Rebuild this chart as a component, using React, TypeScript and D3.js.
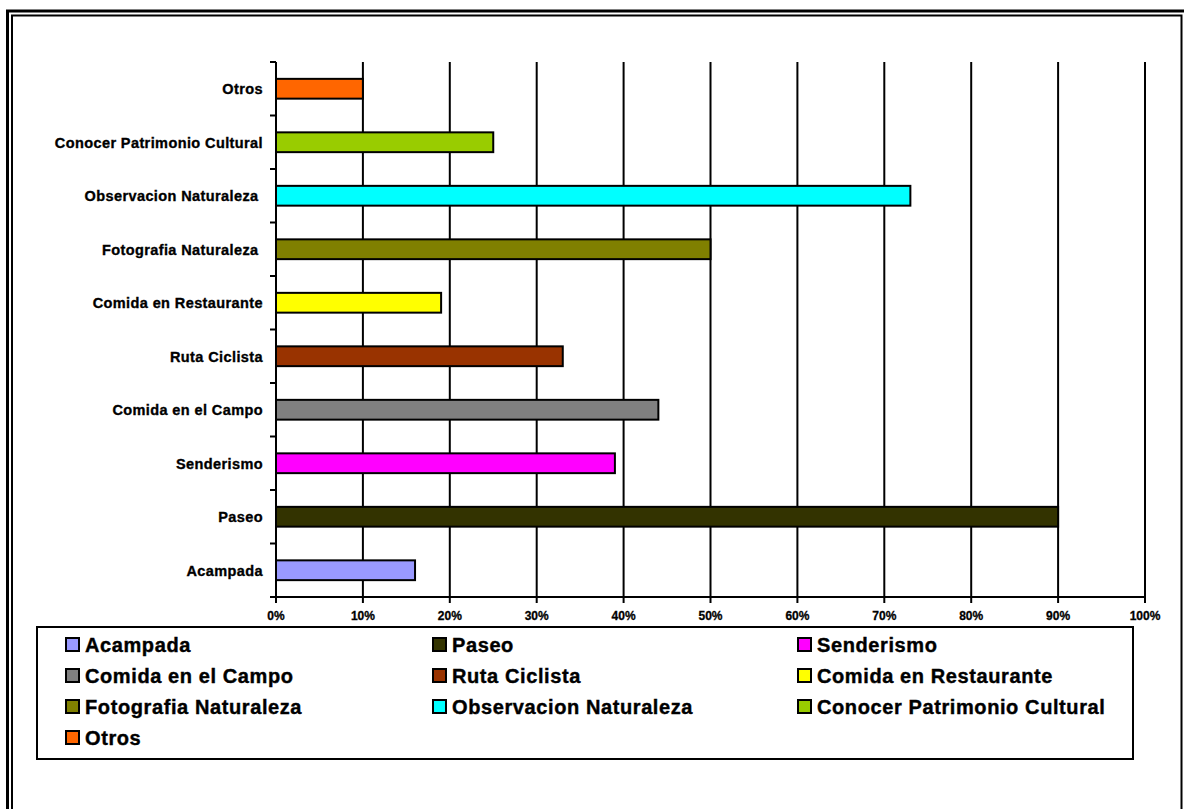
import React from "react";
import * as d3 from "d3";

const categories = [
  "Acampada",
  "Paseo",
  "Senderismo",
  "Comida en el Campo",
  "Ruta Ciclista",
  "Comida en Restaurante",
  "Fotografia Naturaleza ",
  "Observacion Naturaleza ",
  "Conocer Patrimonio Cultural",
  "Otros",
];
const values = [16, 90, 39, 44, 33, 19, 50, 73, 25, 10];
const colors = [
  "#9999FF",
  "#333300",
  "#FF00FF",
  "#808080",
  "#993300",
  "#FFFF00",
  "#808000",
  "#00FFFF",
  "#99CC00",
  "#FF6600",
];
const xTicks = [0, 10, 20, 30, 40, 50, 60, 70, 80, 90, 100];

const W = 1184;
const H = 809;
const FONT = "Arial, 'Liberation Sans', Helvetica, sans-serif";

export default function App() {
  const x0 = 276;
  const x1 = 1145;
  const yTop = 62;
  const yBot = 597;
  const x = d3.scaleLinear().domain([0, 100]).range([x0, x1]);
  const pad = 0.63;
  const y = d3
    .scaleBand<string>()
    .domain([...categories].reverse())
    .range([yTop, yBot])
    .paddingInner(pad)
    .paddingOuter(pad / 2);
  const step = y.step();
  const boundaries = d3.range(categories.length + 1).map((i) => yTop + i * step);

  const legX = [65, 432, 797];
  const legBase = [652, 683, 714, 745];

  return (
    <svg
      width={W}
      height={H}
      style={{ position: "absolute", left: 0, top: 0, background: "#fff" }}
      fontFamily={FONT}
    >
      <rect x={0} y={0} width={W} height={H} fill="#fff" />
      <rect x={7.5} y={11} width={1180} height={820} fill="none" stroke="#000" strokeWidth={3} />
      <rect x={12} y={15.5} width={1169.5} height={810} fill="none" stroke="#000" strokeWidth={2} />

      {xTicks.slice(1).map((t) => (
        <line key={"g" + t} x1={x(t)} x2={x(t)} y1={yTop} y2={yBot} stroke="#000" strokeWidth={2} />
      ))}

      {categories.map((c, i) => (
        <rect
          key={c}
          x={x(0)}
          y={y(c)!}
          width={x(values[i]) - x(0)}
          height={y.bandwidth()}
          fill={colors[i]}
          stroke="#000"
          strokeWidth={2}
        />
      ))}

      <line x1={x0} x2={x0} y1={yTop} y2={yBot} stroke="#000" strokeWidth={2} />
      <line x1={x0 - 6} x2={x1 + 1} y1={yBot} y2={yBot} stroke="#000" strokeWidth={2} />
      {boundaries.map((b, i) => (
        <line key={"yt" + i} x1={x0 - 6} x2={x0} y1={b} y2={b} stroke="#000" strokeWidth={2} />
      ))}
      {xTicks.map((t) => (
        <line key={"xt" + t} x1={x(t)} x2={x(t)} y1={yBot} y2={yBot + 6} stroke="#000" strokeWidth={2} />
      ))}
      {xTicks.map((t) => (
        <text
          key={"xl" + t}
          x={x(t)}
          y={620}
          textAnchor="middle"
          fontSize={12}
          fontWeight="bold"
          fill="#000"
          stroke="#000"
          strokeWidth={0.3}
        >
          {t + "%"}
        </text>
      ))}
      {categories.map((c) => (
        <text
          key={"cl" + c}
          x={263}
          y={y(c)! + y.bandwidth() / 2 + 5.3}
          textAnchor="end"
          fontSize={14.5}
          letterSpacing={0.4}
          fontWeight="bold"
          fill="#000"
          stroke="#000"
          strokeWidth={0.35}
          xmlSpace="preserve"
          style={{ whiteSpace: "pre" }}
        >
          {c}
        </text>
      ))}

      <rect x={37} y={627} width={1096} height={132} fill="#fff" stroke="#000" strokeWidth={2} />
      {categories.map((c, i) => {
        const col = i % 3;
        const row = Math.floor(i / 3);
        const sx = legX[col];
        const by = legBase[row];
        return (
          <g key={"lg" + c}>
            <rect x={sx + 1} y={by - 14} width={13} height={13} fill={colors[i]} stroke="#000" strokeWidth={2} />
            <text
              x={sx + 20}
              y={by}
              fontSize={20}
              letterSpacing={0.6}
              fontWeight="bold"
              fill="#000"
              stroke="#000"
              strokeWidth={0.4}
            >
              {c.trim()}
            </text>
          </g>
        );
      })}
    </svg>
  );
}
